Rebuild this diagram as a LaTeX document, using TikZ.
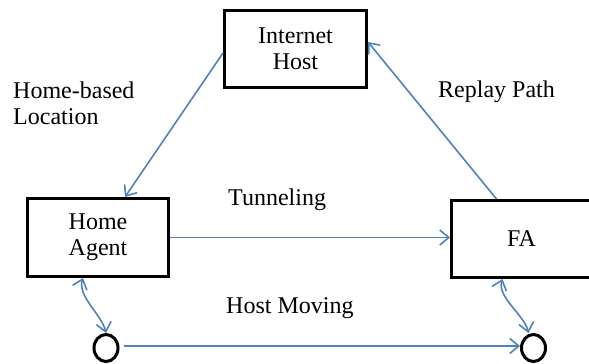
\documentclass[tikz,border=0pt]{standalone}
\usepackage{fontspec}
\setmainfont{Liberation Serif}
\usetikzlibrary{arrows.meta,shapes.geometric}
\definecolor{linkblue}{HTML}{4F81BD}

\begin{document}
\begin{tikzpicture}[x=1pt,y=-1pt,
    every node/.style={font=\fontsize{24}{26}\selectfont},
    box/.style={draw,line width=3pt,align=center,inner sep=0pt},
    host/.style={draw,ellipse,line width=3pt,minimum width=24pt,minimum height=27pt,inner sep=0pt},
    lbl/.style={anchor=north west,align=left,inner sep=0pt},
    link/.style={draw=linkblue,line width=1.6pt,-{Straight Barb[length=9pt,width=15pt]}},
    move/.style={link,{Straight Barb[length=9pt,width=15pt]}-{Straight Barb[length=9pt,width=15pt]}}]
    \useasboundingbox (0,0) rectangle (589,364);
    \node[box,minimum width=142pt,minimum height=77pt] (ih) at (295.5,49) {Internet\\Host};
    \node[box,minimum width=141pt,minimum height=78pt] (ha) at (98,237.5) {Home\\Agent};
    \node[box,minimum width=140pt,minimum height=77pt] (fa) at (521.5,239) {FA};
    \node[host] (mn1) at (106,348) {};
    \node[host] (mn2) at (533.5,348) {};
    \node[lbl] (hbl) at (13,82) {Home-based\\Location};
    \node[lbl] (rp) at (438,81) {Replay Path};
    \node[lbl] (tn) at (228,189) {Tunneling};
    \node[lbl] (hm) at (226,297) {Host Moving};
    \draw[link] ([yshift=-4pt]ih.west) -- ([xshift=27pt]ha.north);
    \draw[link] ([xshift=-25pt]fa.north) -- ([yshift=7pt]ih.east);
    \draw[link] (ha.east) -- (ha.east -| fa.west);
    \draw[link,shorten <=4pt] ([yshift=2pt]mn1.east) -- ([yshift=2pt]mn2.west);
    \draw[move] ([xshift=-15pt]ha.south) .. controls +(-6,18) and +(-4,-18) .. (mn1.north);
    \draw[move] ([xshift=-19pt]fa.south) .. controls +(-6,18) and +(-4,-18) .. ([xshift=-5pt]mn2.north);
\end{tikzpicture}
\end{document}
